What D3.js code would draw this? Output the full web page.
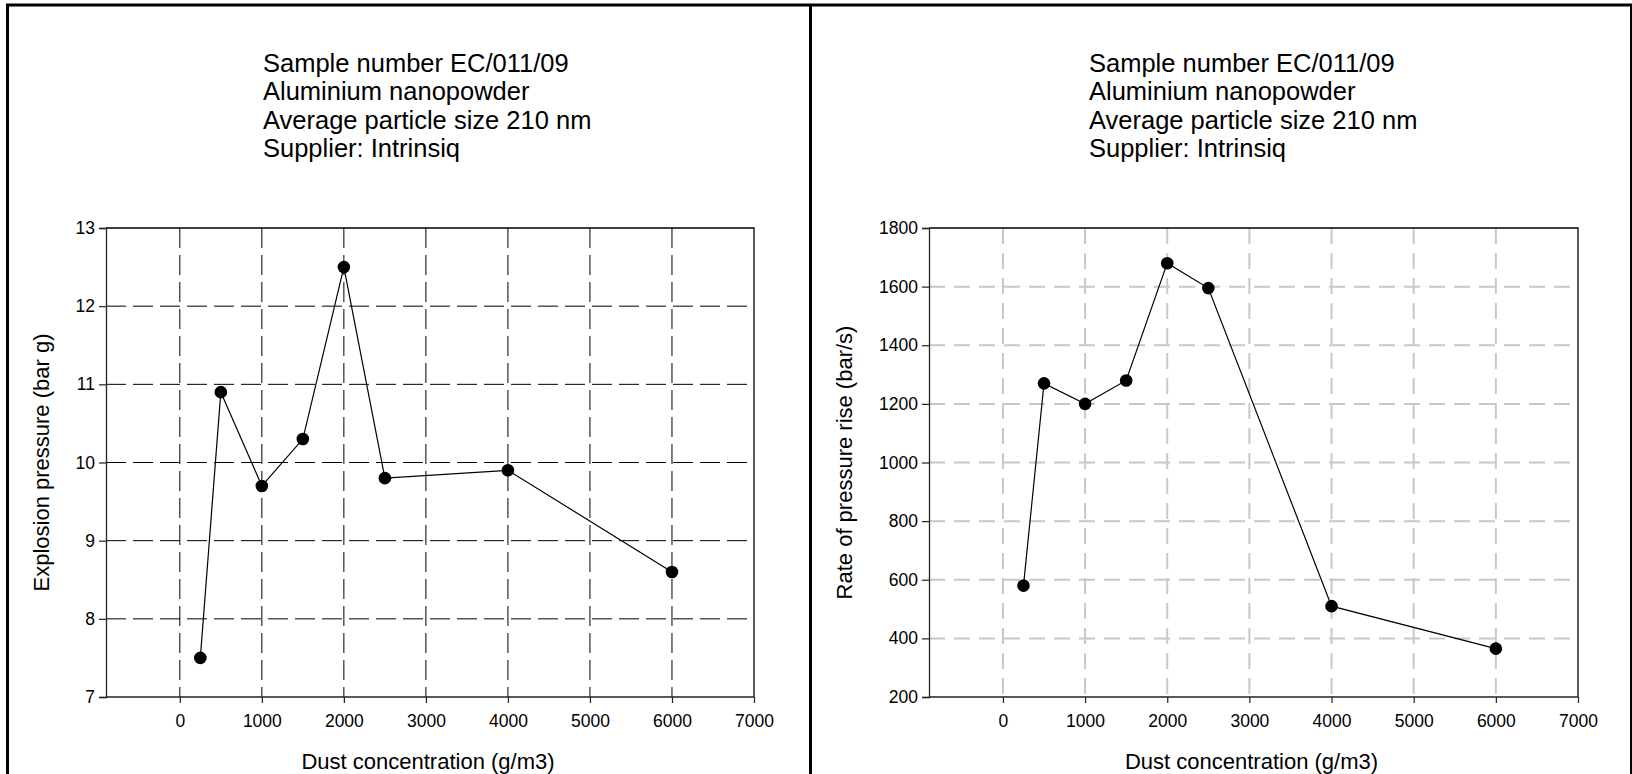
<!DOCTYPE html>
<html>
<head>
<meta charset="utf-8">
<script src="https://cdn.jsdelivr.net/npm/d3@7"></script>
<style>
  html, body { margin: 0; padding: 0; background: #fff; }
  svg text { font-family: "Liberation Sans", Arial, sans-serif; fill: #000; }
</style>
</head>
<body>
<script>
  // data
  var concentration = [250, 500, 1000, 1500, 2000, 2500, 4000, 6000];
  var explosionPressure = [7.5, 10.9, 9.7, 10.3, 12.5, 9.8, 9.9, 8.6];
  var pressureRiseRate = [580, 1270, 1200, 1280, 1680, 1595, 510, 365];

  var xTicks = [0, 1000, 2000, 3000, 4000, 5000, 6000, 7000];
  var pressureTicks = [7, 8, 9, 10, 11, 12, 13];
  var rateTicks = [200, 400, 600, 800, 1000, 1200, 1400, 1600, 1800];

  var titleLines = [
    'Sample number EC/011/09',
    'Aluminium nanopowder',
    'Average particle size 210 nm',
    'Supplier: Intrinsiq'
  ];
  var xLabel = 'Dust concentration (g/m3)';

  var W = 1632, H = 774;

  var svg = d3.select('body')
    .append('svg')
    .attr('width', W)
    .attr('height', H);

  // outer panel frame (no bottom edge)
  var frame = svg.append('g')
    .attr('stroke', '#000')
    .attr('fill', 'none');
  frame.append('line').attr('x1', 6).attr('x2', W).attr('y1', 5).attr('y2', 5).attr('stroke-width', 3);
  frame.append('line').attr('x1', 7.5).attr('x2', 7.5).attr('y1', 4).attr('y2', H).attr('stroke-width', 3);
  frame.append('line').attr('x1', 810.5).attr('x2', 810.5).attr('y1', 4).attr('y2', H).attr('stroke-width', 3);
  frame.append('line').attr('x1', 1631).attr('x2', 1631).attr('y1', 4).attr('y2', H).attr('stroke-width', 2);

  function drawPanel(opt) {
    var top = 228, bottom = 697;
    var x = d3.scaleLinear().domain([-900, 7000]).range([opt.left, opt.right]);
    var y = d3.scaleLinear().domain(opt.yDomain).range([bottom, top]);

    var g = svg.append('g');

    // title block
    g.append('g').selectAll('text')
      .data(titleLines)
      .enter()
      .append('text')
      .attr('x', opt.titleX)
      .attr('y', function (d, i) { return 72 + i * 28.3; })
      .attr('font-size', 25.5)
      .text(function (d) { return d; });

    // grid
    var grid = g.append('g')
      .attr('stroke', opt.gridColor)
      .attr('stroke-width', opt.gridWidth)
      .attr('stroke-dasharray', opt.gridDash)
      .attr('fill', 'none');
    grid.selectAll('.vg')
      .data(xTicks.filter(function (d) { return d < 7000; }))
      .enter()
      .append('line')
      .attr('x1', function (d) { return x(d); })
      .attr('x2', function (d) { return x(d); })
      .attr('y1', top)
      .attr('y2', bottom);
    grid.selectAll('.hg')
      .data(opt.yTicks.slice(1, -1))
      .enter()
      .append('line')
      .attr('x1', opt.left)
      .attr('x2', opt.right)
      .attr('y1', function (d) { return y(d); })
      .attr('y2', function (d) { return y(d); });

    // plot frame: top and right solid
    g.append('path')
      .attr('d', 'M' + opt.left + ',' + top + 'H' + opt.right + 'V' + bottom)
      .attr('stroke', '#000')
      .attr('stroke-width', 1.3)
      .attr('fill', 'none');

    // axes
    var fmt = d3.format('d');
    var xAxis = g.append('g')
      .attr('transform', 'translate(0,' + bottom + ')')
      .call(d3.axisBottom(x).tickValues(xTicks).tickFormat(fmt).tickSizeOuter(0).tickSize(6).tickPadding(12));
    var yAxis = g.append('g')
      .attr('transform', 'translate(' + opt.left + ',0)')
      .call(d3.axisLeft(y).tickValues(opt.yTicks).tickFormat(fmt).tickSizeOuter(0).tickSize(7).tickPadding(4));
    [xAxis, yAxis].forEach(function (a) {
      a.select('.domain').attr('stroke', '#222').attr('stroke-width', 1.3);
      a.selectAll('.tick line').attr('stroke', '#222').attr('stroke-width', 1.2);
      a.selectAll('.tick text')
        .attr('font-family', '"Liberation Sans", Arial, sans-serif')
        .attr('font-size', 17.5)
        .attr('fill', '#000');
    });
    // the x axis line starts at the y axis
    xAxis.select('.domain').attr('d', 'M' + opt.left + ',0H' + opt.right);

    // axis titles
    g.append('text')
      .attr('x', (opt.left + opt.right) / 2 - 2)
      .attr('y', 769)
      .attr('text-anchor', 'middle')
      .attr('font-size', 22)
      .text(xLabel);
    g.append('text')
      .attr('transform', 'translate(' + opt.yLabelX + ',' + (top + bottom) / 2 + ') rotate(-90)')
      .attr('text-anchor', 'middle')
      .attr('font-size', 22)
      .text(opt.yLabel);

    // series
    var line = d3.line()
      .x(function (d) { return x(d[0]); })
      .y(function (d) { return y(d[1]); });
    var pts = concentration.map(function (c, i) { return [c, opt.values[i]]; });
    g.append('path')
      .datum(pts)
      .attr('d', line)
      .attr('stroke', '#000')
      .attr('stroke-width', 1.2)
      .attr('fill', 'none');
    g.append('g').selectAll('circle')
      .data(pts)
      .enter()
      .append('circle')
      .attr('cx', function (d) { return x(d[0]); })
      .attr('cy', function (d) { return y(d[1]); })
      .attr('r', 6.3)
      .attr('fill', '#000');
  }

  drawPanel({
    left: 106, right: 754,
    yDomain: [7, 13], yTicks: pressureTicks, values: explosionPressure,
    yLabel: 'Explosion pressure (bar g)', yLabelX: 49,
    titleX: 263,
    gridColor: '#000', gridWidth: 1, gridDash: '20,7'
  });

  drawPanel({
    left: 929, right: 1578,
    yDomain: [200, 1800], yTicks: rateTicks, values: pressureRiseRate,
    yLabel: 'Rate of pressure rise (bar/s)', yLabelX: 852,
    titleX: 1089,
    gridColor: '#c8c8c8', gridWidth: 2, gridDash: '16,9'
  });
</script>
</body>
</html>
